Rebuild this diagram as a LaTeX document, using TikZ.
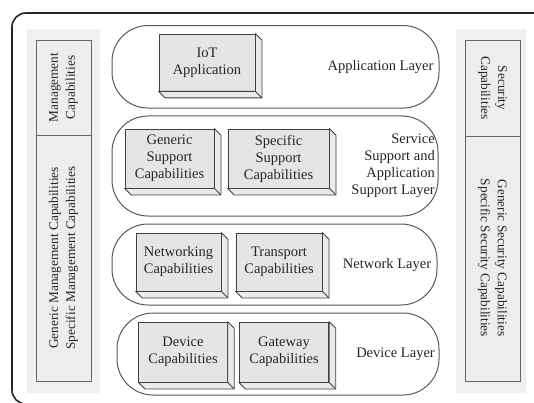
\documentclass[tikz,border=0pt]{standalone}
\usepackage{fontspec}
\setmainfont{Liberation Serif}
\begin{document}
\begin{tikzpicture}[x=1pt,y=-1pt,
  txt/.style={font=\fontsize{14.5}{17}\selectfont, text=black!85, align=center, inner sep=0pt},
  sidetxt/.style={font=\fontsize{13.3}{17}\selectfont, text=black!85, align=center, inner sep=0pt},
  frame/.style={draw=black!85, line width=1.6pt, rounded corners=14pt},
  panelbg/.style={fill=black!6, draw=none},
  panelbox/.style={draw=black!60, fill=black!7, line width=0.9pt},
  layer/.style={draw=black!65, line width=1pt, rounded corners=36pt, fill=white, inner sep=0pt},
  capbox/.style={draw=black!75, fill=black!10, line width=0.8pt, inner sep=0pt,
    font=\fontsize{14.5}{17}\selectfont, text=black!85, align=center},
  depth/.style={draw=black!75, fill=black!8, line width=0.8pt, line join=round}
]
\useasboundingbox (0,0) rectangle (534,403);
\fill[white] (0,0) rectangle (534,403);

% outer frame, running off the right and bottom edges
\begin{scope}
\clip (0,0) rectangle (534,403);
\draw[frame] (12,13) rectangle (560,404);
\end{scope}

% management column
\fill[panelbg] (27,29) rectangle (100,393);
\draw[panelbox] (36,40) rectangle (91,381);
\draw[draw=black!60, line width=0.9pt] (36,135.5) -- (91,135.5);
\node[sidetxt, rotate=90] (mgmt) at (63.5,87.5) {Management\\Capabilities};
\node[sidetxt, rotate=90] (mgmtsub) at (63.5,258) {Generic Management Capabilities\\Specific Management Capabilities};

% security column
\fill[panelbg] (456,29) rectangle (526,393);
\draw[panelbox] (465,40) rectangle (520,381);
\draw[draw=black!60, line width=0.9pt] (465,136) -- (520,136);
\node[sidetxt, rotate=-90] (sec) at (492.5,88) {Security\\Capabilities};
\node[sidetxt, rotate=-90] (secsub) at (492.5,258) {Generic Security Capabilities\\Specific Security Capabilities};

% layers
\node[layer, minimum width=327pt, minimum height=82.5pt] (appL) at (275.5,66.8) {};
\node[layer, minimum width=326pt, minimum height=100pt] (svcL) at (275,166) {};
\node[layer, minimum width=325pt, minimum height=81pt] (netL) at (274.5,264.5) {};
\node[layer, minimum width=322pt, minimum height=82pt] (devL) at (278,354) {};

\node[txt] (appT) at (380.5,67) {Application Layer};
\node[txt, align=right, anchor=east] (svcT) at (435,166) {Service\\Support and\\Application\\Support Layer};
\node[txt] (netT) at (387,265) {Network Layer};
\node[txt] (devT) at (395.5,354) {Device Layer};

% capability boxes with extruded sides
\newcommand{\capblock}[6]{%
  \node[capbox, minimum width=#4pt, minimum height=#5pt] (#1) at (#2,#3) {#6};
  \draw[depth] (#1.north east) -- ++(6.5,6.5) |- ([shift={(6.5,6.5)}]#1.south west) -- (#1.south west) -- (#1.south east) -- (#1.north east) -- cycle;
  \draw[draw=black!75, line width=0.8pt] (#1.south east) -- ++(6.5,6.5);
}
\capblock{iot}{207}{62.5}{96}{57}{IoT\\Application}
\capblock{gsc}{169.5}{158.5}{89}{59}{Generic\\Support\\Capabilities}
\capblock{ssc}{278.5}{158.5}{101}{59}{Specific\\Support\\Capabilities}
\capblock{nwc}{178.5}{262}{85}{58}{Networking\\Capabilities}
\capblock{trc}{279}{262}{86}{58}{Transport\\Capabilities}
\capblock{dvc}{183}{352}{88.5}{60}{Device\\Capabilities}
\capblock{gwc}{284}{352}{89.5}{60}{Gateway\\Capabilities}
\end{tikzpicture}
\end{document}
